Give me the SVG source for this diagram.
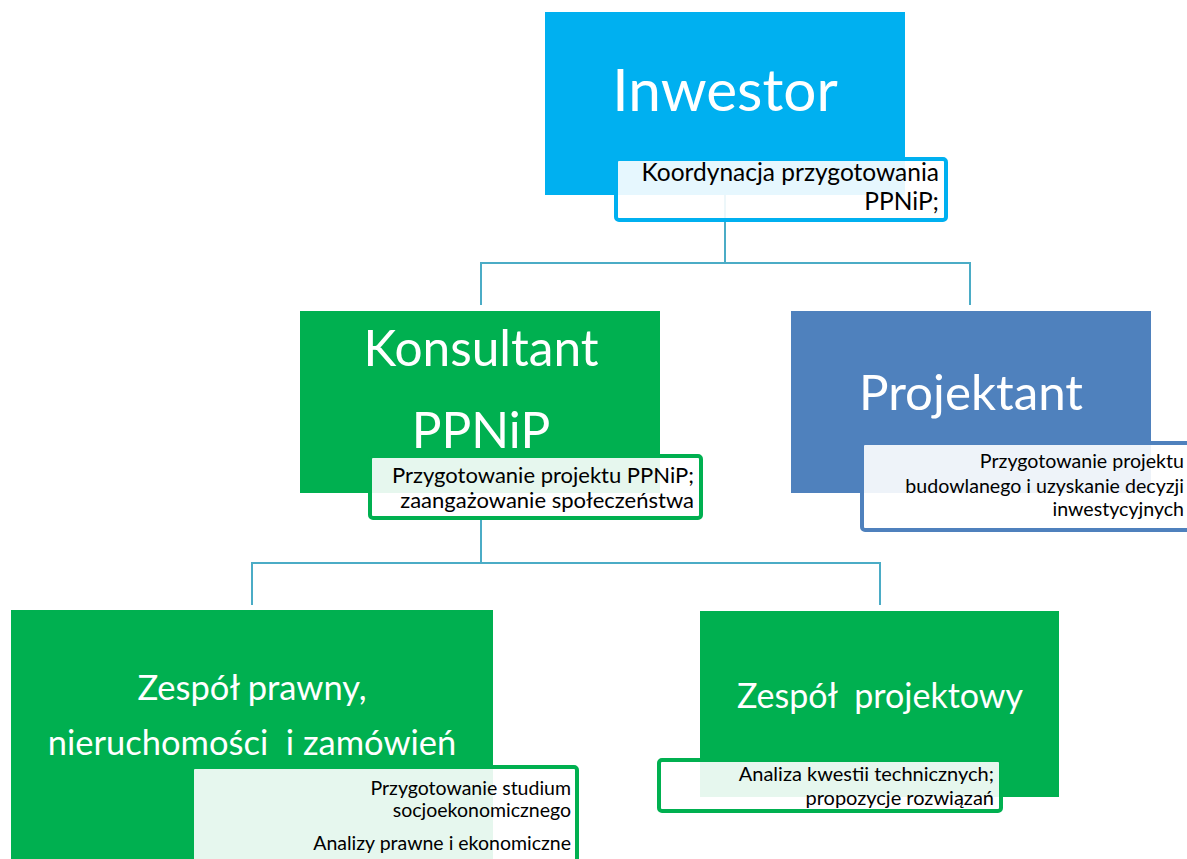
<svg xmlns="http://www.w3.org/2000/svg" width="1187" height="859" viewBox="0 0 1187 859">
  <style>
    .title { font-family: Lato, "Liberation Sans", sans-serif; fill: #ffffff; text-anchor: middle; }
    .note { font-family: Lato, "Liberation Sans", sans-serif; fill: #000000; text-anchor: end; }
    .link { fill: none; stroke: #4BACC6; stroke-width: 2; }
    .cap { fill: #ffffff; fill-opacity: 0.9; stroke-width: 4; }
  </style>
  <rect width="1187" height="859" fill="#ffffff"/>

  <!-- connectors -->
  <g id="connectors">
    <path class="link" d="M725 195 V263 M481 305 V263 H970 V305"/>
    <path class="link" d="M481 520 V563 M252 605 V563 H880 V605"/>
  </g>

  <!-- top level -->
  <g id="inwestor">
    <rect x="545" y="12" width="360" height="183" fill="#00B0F0"/>
    <text class="title" x="725" y="111" font-size="58.5">Inwestor</text>
    <rect class="cap" x="616" y="159" width="330" height="61" rx="3" stroke="#00B0F0"/>
    <text class="note" x="939" y="181" font-size="24.5">Koordynacja przygotowania</text>
    <text class="note" x="939" y="210" font-size="24.5">PPNiP;</text>
  </g>

  <!-- second level -->
  <g id="konsultant">
    <rect x="300" y="311" width="360" height="182" fill="#00B050"/>
    <text class="title" x="481" y="366" font-size="49.6">Konsultant</text>
    <text class="title" x="481" y="448" font-size="49.6">PPNiP</text>
    <rect class="cap" x="370" y="456" width="331" height="62" rx="3" stroke="#00B050"/>
    <text class="note" x="694" y="483" font-size="22">Przygotowanie projektu PPNiP;</text>
    <text class="note" x="694" y="508" font-size="22">zaangażowanie społeczeństwa</text>
  </g>

  <g id="projektant">
    <rect x="791" y="311" width="360" height="182" fill="#4F81BD"/>
    <text class="title" x="971" y="410" font-size="49.3">Projektant</text>
    <rect class="cap" x="862" y="443" width="340" height="87" rx="3" stroke="#4F81BD"/>
    <text class="note" x="1184" y="468" font-size="19.6">Przygotowanie projektu</text>
    <text class="note" x="1184" y="493" font-size="19.6">budowlanego i uzyskanie decyzji</text>
    <text class="note" x="1184" y="516" font-size="19.6">inwestycyjnych</text>
  </g>

  <!-- third level -->
  <g id="zespol-prawny">
    <rect x="11" y="610" width="482" height="260" fill="#00B050"/>
    <text class="title" x="252" y="700" font-size="34.5">Zespół prawny,</text>
    <text class="title" x="252" y="755" font-size="34.5" xml:space="preserve">nieruchomości  i zamówień</text>
    <rect class="cap" x="192" y="767" width="385" height="110" rx="3" stroke="#00B050"/>
    <text class="note" x="571" y="795" font-size="19.5">Przygotowanie studium</text>
    <text class="note" x="571" y="817" font-size="19.5">socjoekonomicznego</text>
    <text class="note" x="571" y="850" font-size="19.5">Analizy prawne i ekonomiczne</text>
  </g>

  <g id="zespol-projektowy">
    <rect x="700" y="611" width="359" height="186" fill="#00B050"/>
    <text class="title" x="880" y="708" font-size="34" xml:space="preserve">Zespół  projektowy</text>
    <rect class="cap" x="659" y="760" width="342" height="51" rx="3" stroke="#00B050"/>
    <text class="note" x="994" y="781" font-size="20">Analiza kwestii technicznych;</text>
    <text class="note" x="994" y="805" font-size="20">propozycje rozwiązań</text>
  </g>
</svg>
